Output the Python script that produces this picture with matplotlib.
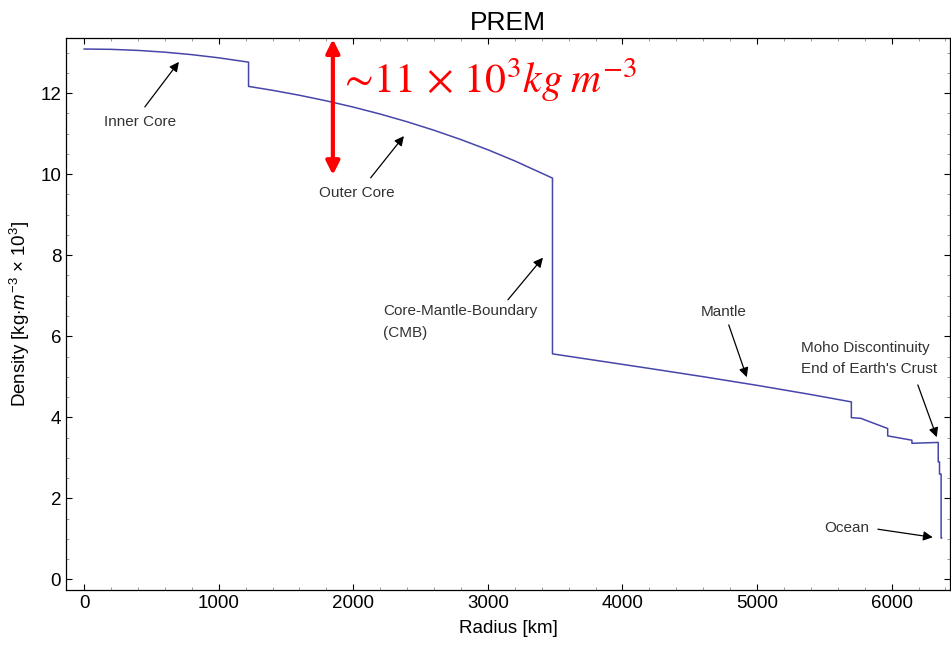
import matplotlib
matplotlib.use("Agg")
import matplotlib.pyplot as plt
from matplotlib.ticker import MultipleLocator

plt.rcParams['font.family'] = ['Liberation Sans', 'DejaVu Sans']
plt.rcParams['mathtext.fontset'] = 'custom'
plt.rcParams['mathtext.rm'] = 'Liberation Sans'
plt.rcParams['mathtext.it'] = 'Liberation Sans:italic'
plt.rcParams['mathtext.bf'] = 'Liberation Sans:bold'

# PREM density profile, radius in km, density in 10^3 kg/m^3
radius = [0, 200, 400, 600, 800, 1000, 1221.5,
          1221.5, 1400, 1600, 1800, 2000, 2200, 2400, 2600, 2800, 3000, 3200, 3480,
          3480, 3800, 4200, 4600, 5000, 5400, 5701,
          5701, 5771, 5971,
          5971, 6151,
          6151, 6291, 6346.6,
          6346.6, 6356, 6356, 6368, 6368, 6371]
density = [13.088, 13.080, 13.054, 13.010, 12.949, 12.871, 12.764,
           12.166, 12.069, 11.947, 11.809, 11.655, 11.483, 11.293, 11.083, 10.853, 10.602, 10.327, 9.903,
           5.566, 5.407, 5.207, 5.003, 4.790, 4.563, 4.381,
           3.992, 3.976, 3.724,
           3.543, 3.436,
           3.360, 3.375, 3.381,
           2.900, 2.900, 2.600, 2.600, 1.020, 1.020]

title = "PREM"
xlabel = "Radius [km]"
ylabel = r"Density [kg$\cdot\mathit{m}^{-3}$ $\times$ 10$^{3}$]"

fig = plt.figure(figsize=(9.51, 6.47), dpi=100)
ax = fig.add_axes([66/951, 57/647, 884/951, 552/647])

ax.plot(radius, density, color='#4646aa', lw=1.1)

ax.set_xlim(-135, 6434)
ax.set_ylim(-0.26, 13.36)

ax.xaxis.set_major_locator(MultipleLocator(1000))
ax.xaxis.set_minor_locator(MultipleLocator(200))
ax.yaxis.set_major_locator(MultipleLocator(2))
ax.yaxis.set_minor_locator(MultipleLocator(0.5))
ax.tick_params(which='both', direction='in', top=True, right=True, labelsize=13.5, colors='black')
ax.tick_params(which='major', length=4.5, width=0.8)
ax.tick_params(which='minor', length=2.5, width=0.6, color='#888888')
for s in ax.spines.values():
    s.set_linewidth(0.9)

ax.set_title(title, fontsize=19, pad=6)
ax.set_xlabel(xlabel, fontsize=13.5, labelpad=6)
ax.set_ylabel(ylabel, fontsize=13.5, labelpad=6)

txtc = '#333333'
arrow_kw = dict(arrowstyle='-|>', color='black', lw=0.9, mutation_scale=14, shrinkA=0, shrinkB=0)

ax.text(414, 11.29, "Inner Core", fontsize=11, color=txtc, ha='center', va='center')
ax.annotate('', xy=(704, 12.77), xytext=(451, 11.66), arrowprops=arrow_kw)

ax.text(2027, 9.54, "Outer Core", fontsize=11, color=txtc, ha='center', va='center')
ax.annotate('', xy=(2376, 10.94), xytext=(2129, 9.91), arrowprops=arrow_kw)

ax.text(2222, 6.62, "Core-Mantle-Boundary", fontsize=11, color=txtc, ha='left', va='center')
ax.text(2222, 6.07, "(CMB)", fontsize=11, color=txtc, ha='left', va='center')
ax.annotate('', xy=(3409, 7.94), xytext=(3149, 6.90), arrowprops=arrow_kw)

ax.text(4753, 6.61, "Mantle", fontsize=11, color=txtc, ha='center', va='center')
ax.annotate('', xy=(4924, 4.99), xytext=(4790, 6.28), arrowprops=arrow_kw)

ax.text(5328, 5.72, "Moho Discontinuity", fontsize=11, color=txtc, ha='left', va='center')
ax.text(5328, 5.20, "End of Earth's Crust", fontsize=11, color=txtc, ha='left', va='center')
ax.annotate('', xy=(6336, 3.51), xytext=(6195, 4.80), arrowprops=arrow_kw)

ax.text(5668, 1.27, "Ocean", fontsize=11, color=txtc, ha='center', va='center')
ax.annotate('', xy=(6306, 1.04), xytext=(5898, 1.24), arrowprops=arrow_kw)

# red double arrow and label
ax.annotate('', xy=(1848, 13.33), xytext=(1848, 9.98),
            arrowprops=dict(arrowstyle='<|-|>', color='#ff0000', lw=3, mutation_scale=20,
                            shrinkA=0, shrinkB=0))
ax.text(1885, 12.33, r"$\sim\!11\,\times\,10^{3}kg\;m^{-3}$", fontsize=30, color='#ff0000',
        ha='left', va='center', math_fontfamily='stix')

fig.savefig("out.png", dpi=100)
